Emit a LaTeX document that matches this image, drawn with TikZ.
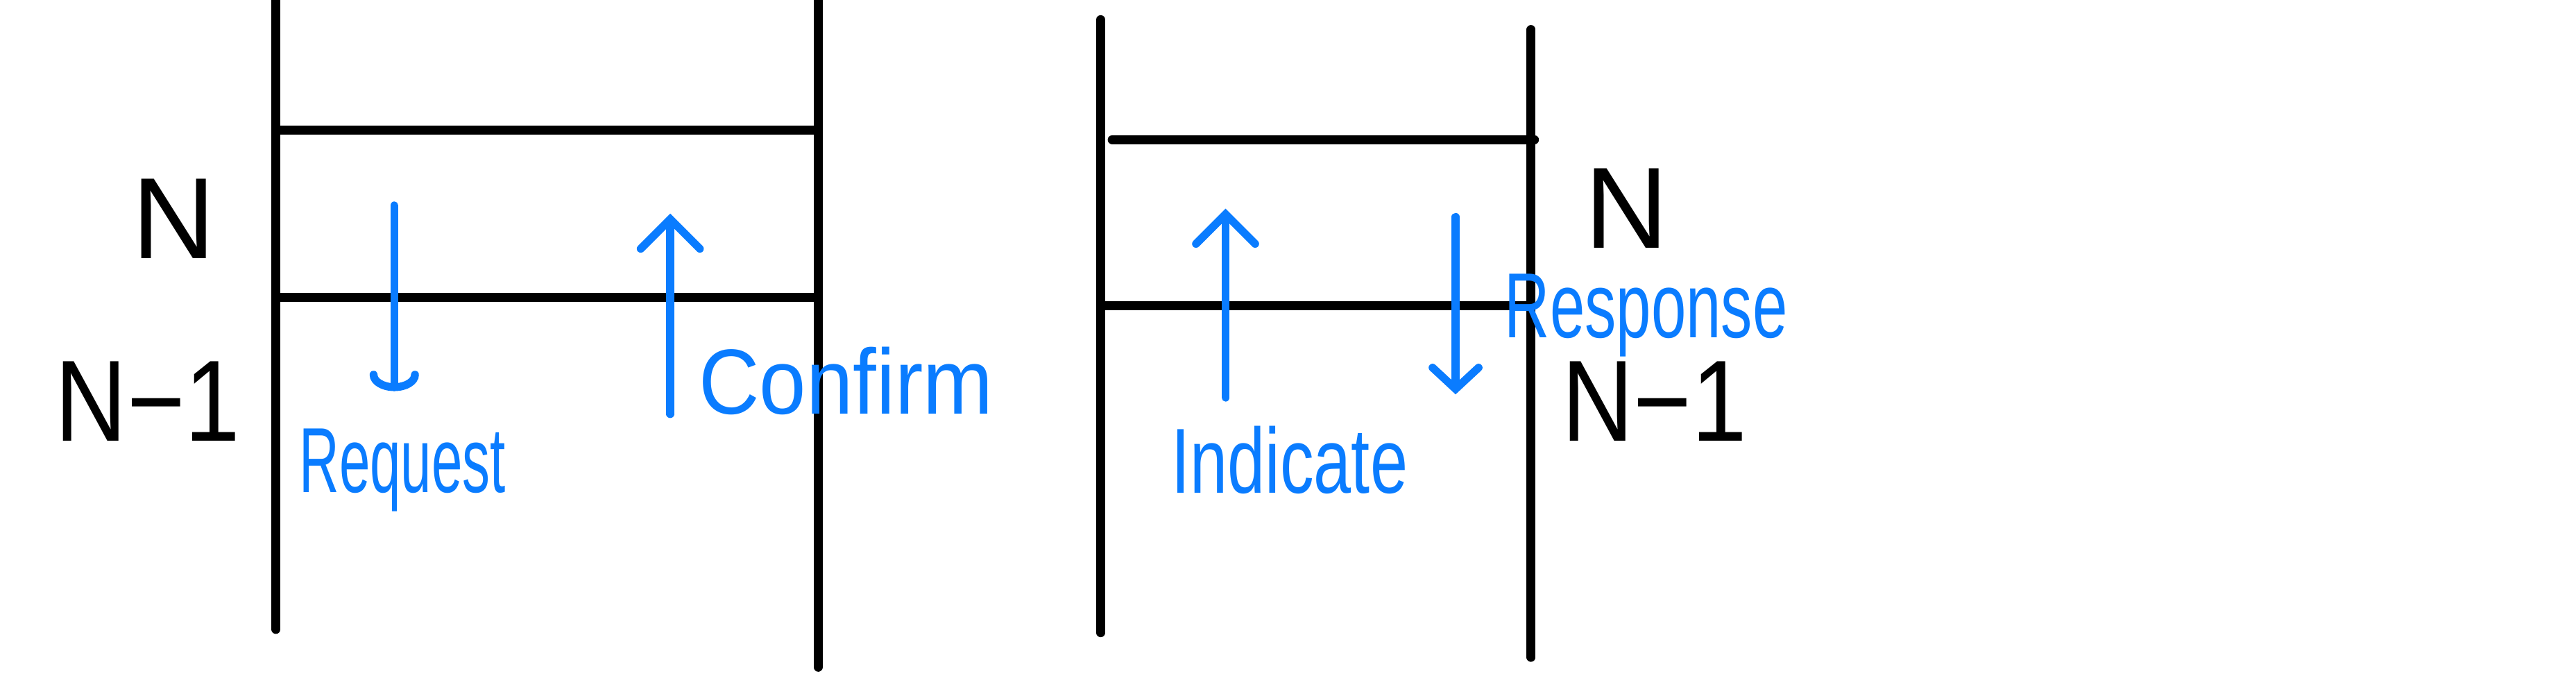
\documentclass[tikz,border=0pt]{standalone}
\usepackage{fontspec}
\setmainfont{Liberation Sans}
\usepackage{graphicx}
\usetikzlibrary{arrows.meta}
\definecolor{penblue}{RGB}{10,124,255}
\def\squeeze#1#2{\scalebox{#1}[1]{#2}}
\tikzset{
  wall/.style={line width=0.55mm, line cap=round},
  msg/.style={draw=penblue, line width=0.48mm, line cap=round, -{Straight Barb[length=1.8mm,width=3.6mm,line cap=round]}},
  word/.style={text=penblue, inner sep=0pt, font=\fontsize{16}{16}\selectfont},
  layer/.style={inner sep=0pt, font=\fontsize{20}{20}\selectfont}
}

\begin{document}
\begin{tikzpicture}[x=0.1mm, y=-0.1mm]
		%%%%% START %%%%%
		\useasboundingbox (0, 0) rectangle (1568, 421.9);
		
		% left stack
		\draw[wall] (168, 0) -- (168, 383);
		\draw[wall] (498, 0) -- (498, 406);
		\draw[wall] (170, 79) -- (497, 79);
		\draw[wall] (170, 181) -- (497, 181);
		
		\node[layer] (nA) at (106, 133) {N};
		\node[layer] (nA1) at (90, 244) {\squeeze{0.86}{N−1}};
		
		\coordinate (reqTop) at (240, 125);
		\coordinate (reqEnd) at (240, 238);
		\draw[msg, -{Arc Barb[length=1mm,width=3mm,line cap=round]}] (reqTop) -- (reqEnd);
		\node[word] (request) at (245, 286) {\squeeze{0.6}{Request}};
		
		\coordinate (cnfBot) at (408, 252);
		\coordinate (cnfEnd) at (408, 130);
		\draw[msg] (cnfBot) -- (cnfEnd);
		\node[word] (confirm) at (515, 232) {\squeeze{0.91}{Confirm}};
		
		% right stack
		\draw[wall] (670, 12) -- (670, 385);
		\draw[wall] (932, 18) -- (932, 400);
		\draw[wall] (677, 85) -- (934, 85);
		\draw[wall] (672, 186) -- (930, 186);
		
		\node[layer] (nB) at (990, 127) {N};
		\node[layer] (nB1) at (1007, 244) {\squeeze{0.86}{N−1}};
		
		\coordinate (indBot) at (746, 242);
		\coordinate (indEnd) at (746, 127);
		\draw[msg] (indBot) -- (indEnd);
		\node[word] (indicate) at (785, 280) {\squeeze{0.73}{Indicate}};
		
		\coordinate (rspTop) at (886, 132);
		\coordinate (rspEnd) at (886, 240);
		\draw[msg, -{Straight Barb[length=1.3mm,width=2.8mm,line cap=round]}] (rspTop) -- (rspEnd);
		\node[word] (response) at (1002, 192) {\squeeze{0.68}{Response}};
		
		%%%%% END %%%%%
	\end{tikzpicture}
\end{document}
